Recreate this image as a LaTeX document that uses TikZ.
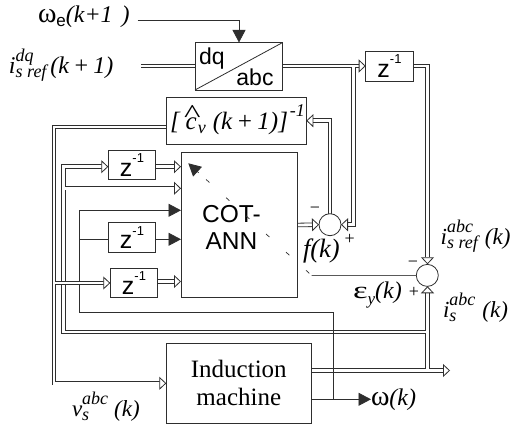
\documentclass[tikz,border=0pt]{standalone}
\usepackage{fontspec}
\usepackage{graphicx}
\setmainfont{Liberation Serif}
\setsansfont{Liberation Sans}
\usetikzlibrary{arrows.meta,calc}
\newcommand\upt[1]{\raisebox{12pt}{\fontsize{18}{18}\selectfont\itshape #1}}
\newcommand\dnt[1]{\raisebox{-4pt}{\fontsize{18}{18}\selectfont\itshape #1}}
\newcommand\zinv{\fontsize{25}{25}\selectfont\sffamily z\raisebox{.55em}{\fontsize{13}{13}\selectfont -1}}
\colorlet{ln}{black!82}
\tikzset{
  box/.style={draw=ln,line width=.8pt,fill=white,inner sep=0pt,outer sep=0pt,anchor=north west,align=center},
  sumn/.style={circle,draw=ln,line width=.8pt,fill=white,inner sep=0pt,outer sep=0pt,minimum size=22pt},
  sl/.style={draw=ln,line width=.8pt},
  dl/.style={draw=ln,line width=.8pt,double=white,double distance=2.8pt},
  otip/.style={-{Triangle[length=7pt,width=13pt,fill=white,line width=.8pt]}},
  ftip/.style={-{Triangle[length=12.5pt,width=13pt,fill=ln]}},
  lab/.style={inner sep=0pt,outer sep=0pt,anchor=base west,font=\fontsize{24}{24}\selectfont\itshape},
  sgn/.style={inner sep=0pt,outer sep=0pt,font=\fontsize{18}{18}\selectfont},
}
\begin{document}
\begin{tikzpicture}[x=1pt,y=-1pt]
\useasboundingbox (0,0) rectangle (514,427);
% junctions and free ends
\coordinate (om0) at (137.5,20.7);
\coordinate (omk) at (239,20.7);
\coordinate (dqin) at (141,66);
\coordinate (dqtop) at (239,42.5);
\coordinate (dqw) at (195,66);
\coordinate (dqe) at (282.7,66);
\coordinate (zte) at (413.3,66);
\coordinate (ztw) at (365.7,66);
\coordinate (ztc) at (427.5,66);
\coordinate (brt) at (353.5,66);
\coordinate (brc) at (353.5,224.7);
\coordinate (s1e) at (341,224.7);
\coordinate (s1w) at (319,224.7);
\coordinate (s1n) at (330,213.7);
\coordinate (fbc) at (330,120.7);
\coordinate (cbe) at (306.3,120.7);
\coordinate (cbw) at (166.3,127);
\coordinate (vac) at (54,127);
\coordinate (vab) at (54,383.3);
\coordinate (imi) at (166.3,383.3);
\coordinate (vaz) at (54,283);
\coordinate (z3i) at (110.3,283);
\coordinate (z3o) at (157.7,281.5);
\coordinate (c3) at (181,281.5);
\coordinate (vbt) at (63.5,166.7);
\coordinate (z1i) at (108.3,166.7);
\coordinate (z1o) at (155.7,166.7);
\coordinate (c1) at (181,166.7);
\coordinate (vbm) at (63.5,188.3);
\coordinate (c2) at (181,188.3);
\coordinate (vbb) at (63.5,332);
\coordinate (trj) at (427.5,332);
\coordinate (imo) at (311.3,370.5);
\coordinate (outj) at (427.5,370.5);
\coordinate (outa) at (450,370.5);
\coordinate (s2s) at (427.5,286.3);
\coordinate (s2n) at (427.5,264.3);
\coordinate (s2w) at (416.3,275.5);
\coordinate (sgk) at (311.7,275.5);
\coordinate (sgt) at (188.3,163.3);
\coordinate (cor) at (297.3,225);
\coordinate (vct) at (79.5,210.3);
\coordinate (c4) at (181,210.3);
\coordinate (vcm) at (79.5,239.3);
\coordinate (z2i) at (108.3,239.3);
\coordinate (z2o) at (155.7,239.3);
\coordinate (c5) at (181,239.3);
\coordinate (vcb) at (79.5,312);
\coordinate (vce) at (333.3,312);
\coordinate (wj) at (333.3,399.3);
\coordinate (imw) at (311.3,399.3);
\coordinate (wo) at (371,399.3);
% double-line networks
\draw[dl] (imo) -- (outj) -- ($(outa)+(-5,0)$) (outj) -- ($(s2s)+(0,5)$) (trj) -- (vbb) -- (vbt) -- ($(z1i)+(-5,0)$) (vbm) -- ($(c2)+(-5,0)$);
\draw[dl,otip] ($(outa)+(-10,0)$) -- (outa);
\draw[dl,otip] ($(s2s)+(0,10)$) -- (s2s);
\draw[dl,otip] ($(z1i)+(-10,0)$) -- (z1i);
\draw[dl,otip] ($(c2)+(-10,0)$) -- (c2);
% single lines
\draw[sl] (vct) -- (vcb) -- (vce) -- (wj);
\draw[sl,ftip] (vct) -- (c4);
\draw[sl] (vcm) -- (z2i);
\draw[sl,ftip] (z2o) -- (c5);
\draw[sl,ftip] (imw) -- (wo);
\draw[sl,ftip] (om0) -- (omk) -- (dqtop);
% second network
\draw[dl] (cbw) -- (vac) -- (vab) -- ($(imi)+(-5,0)$) (vaz) -- ($(z3i)+(-5,0)$);
\draw[dl,otip] ($(imi)+(-10,0)$) -- (imi);
\draw[dl,otip] ($(z3i)+(-10,0)$) -- (z3i);
\draw[dl] (dqe) -- ($(ztw)+(-5,0)$) (brt) -- (brc) -- ($(s1e)+(5,0)$);
\draw[dl,otip] ($(ztw)+(-10,0)$) -- (ztw);
\draw[dl,otip] ($(s1e)+(10,0)$) -- (s1e);
\draw[dl] (dqin) -- (dqw);
\draw[dl,otip] (zte) -- (ztc) -- (s2n);
\draw[dl,otip] (s1n) -- (fbc) -- (cbe);
\draw[dl,otip] (cor) -- (s1w);
\draw[dl,otip] (z1o) -- (c1);
\draw[dl,otip] (z3o) -- (c3);
% boxes
\node[box,minimum width=87.7pt,minimum height=47.5pt] (dq) at (195,42.5) {};
\draw[sl] (dq.south west) -- (dq.north east);
\node[inner sep=0pt,font=\fontsize{23}{23}\selectfont\sffamily] (dqt) at (212,59) {dq};
\node[inner sep=0pt,font=\fontsize{23}{23}\selectfont\sffamily] (abct) at (255,77) {abc};
\node[box,minimum width=47.6pt,minimum height=29.3pt] (zt) at (365.7,51.7) {\zinv};
\node[box,minimum width=140pt,minimum height=47.4pt] (cb) at (166.3,97.3) {};
\node[lab,font=\fontsize{25}{25}\selectfont\itshape] (cbt) at (170,130) {[\kern6pt\rlap{\kern-1.5pt\raisebox{7pt}{\scalebox{1.35}[1]{\fontsize{26}{26}\selectfont\upshape\char94}}}c\kern1pt{\fontsize{18}{18}\selectfont\raisebox{-4pt}{v}}\kern7pt(k\,+\,1)]\raisebox{13pt}{\fontsize{18}{18}\selectfont\kern2pt-1}};
\node[box,minimum width=116.3pt,minimum height=145pt] (cot) at (181,152.3) {};
\node[inner sep=0pt,align=center,font=\fontsize{24.5}{27}\selectfont\sffamily] (cott) at (231.5,227.5) {COT-\\ANN};
\node[box,minimum width=47.4pt,minimum height=29pt] (z1) at (108.3,150.3) {\zinv};
\node[box,minimum width=47.4pt,minimum height=29.6pt] (z2) at (108.3,222.7) {\zinv};
\node[box,minimum width=47.4pt,minimum height=29.4pt] (z3) at (110.3,268.3) {\zinv};
\node[box,minimum width=145pt,minimum height=80.3pt,font=\fontsize{25}{27.5}\selectfont] (im) at (166.3,343) {Induction\\machine};
\node[sumn] (s1) at (330,224.7) {};
\node[sumn] (s2) at (427.3,275.4) {};
% supervised-signal connector
\draw[sl,black!65] (s2) -- (sgk);
\draw[sl,line width=.7pt,dash pattern=on 4.5pt off 22.5pt,dash phase=23.8pt] (sgk) -- ($(sgt)!20pt!(sgk)$);
\draw[sl,ftip] ($(sgt)!14pt!(sgk)$) -- (sgt);
% labels
\node[lab] (l1) at (38,23) {\upshape\fontsize{28}{28}\selectfont ω\raisebox{-4pt}{\fontsize{17}{17}\selectfont\sffamily e}\itshape\fontsize{24}{24}\selectfont(k+1\kern9pt)};
\node[lab] (l2) at (9,74) {i\rlap{\upt{dq}}\dnt{s ref}\kern4pt(k\,+\,1)};
\node[lab,font=\fontsize{23}{23}\selectfont\itshape] (l3) at (440.7,245) {i\rlap{\upt{abc}}\dnt{s ref}\kern7pt(k)};
\node[lab,font=\fontsize{23}{23}\selectfont\itshape] (l4) at (443,318) {i\upt{abc}\llap{\dnt{s}\kern19pt}\kern7pt(k)};
\node[lab,font=\fontsize{23}{23}\selectfont\itshape] (l5) at (72,417) {v\upt{abc}\llap{\dnt{s}\kern19pt}\kern6pt(k)};
\node[lab] (l6) at (353,299) {\upshape\scalebox{1.45}[1]{\fontsize{24}{24}\selectfont ε}\raisebox{-6pt}{\fontsize{17}{17}\selectfont\itshape y}\itshape\fontsize{24}{24}\selectfont(k)};
\node[lab] (l7) at (371,406) {\upshape\fontsize{28}{28}\selectfont ω\itshape\fontsize{24}{24}\selectfont(k)};
\node[lab,font=\fontsize{26.5}{26.5}\selectfont\itshape] (l8) at (303,258) {f(k)};
\node[sgn] (m1) at (315,210) {−};
\node[sgn] (p1) at (349.7,239.5) {+};
\node[sgn] (m2) at (413,264.7) {−};
\node[sgn] (p2) at (414,292) {+};
\end{tikzpicture}
\end{document}
